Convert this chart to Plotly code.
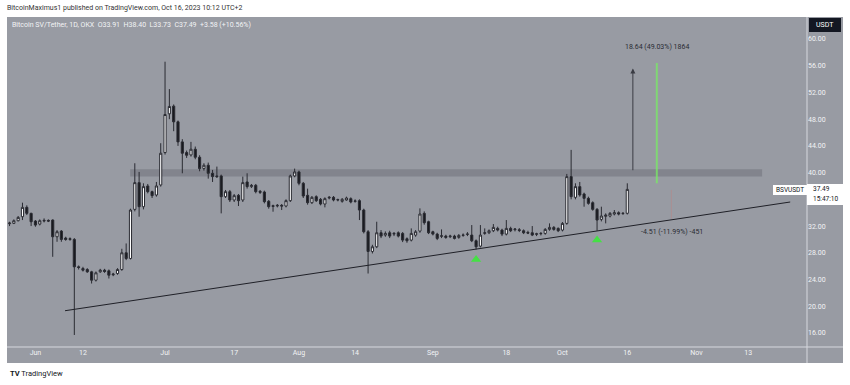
import pandas as pd
import plotly.graph_objects as go

# ---------------- data (daily candles, BSV/USDT, OKX) ----------------
last_date = "2023-10-16"

opens = [
    32.35, 32.40, 32.80, 33.40, 34.80, 33.90, 32.75, 32.30, 32.75, 32.85,
    32.90, 30.40, 31.25, 30.20, 30.00, 30.00, 25.90, 25.65, 25.50, 25.15,
    23.90, 25.15, 25.40, 25.30, 24.70, 24.90, 25.50, 28.00, 27.15, 34.50,
    38.50, 34.90, 38.00, 37.15, 36.65, 38.15, 43.00, 48.80, 49.95, 47.60,
    44.60, 43.00, 42.65, 43.50, 42.30, 40.60, 41.10, 39.90, 39.50, 39.50,
    36.40, 37.15, 35.90, 36.60, 35.90, 38.60, 37.90, 38.10, 37.20, 37.10,
    35.70, 35.05, 35.00, 35.10, 35.00, 35.80, 39.50, 40.10, 38.40, 36.60,
    35.50, 36.40, 36.00, 35.30, 36.20, 36.30, 35.90, 35.70, 35.90, 36.10,
    35.70, 35.80, 34.40, 31.15, 28.20, 28.90, 31.00, 30.65, 31.00, 30.80,
    31.00, 30.90, 30.10, 29.90, 30.65, 31.25, 33.90, 32.65, 31.15, 30.80,
    30.45, 30.50, 30.40, 30.50, 30.30, 30.60, 30.75, 30.65, 29.80, 29.00,
    30.90, 31.00, 31.30, 31.65, 31.40, 30.80, 31.65, 31.45, 31.45, 31.30,
    31.05, 31.00, 30.75, 30.85, 30.90, 31.50, 31.80, 31.65, 31.40, 32.40,
    39.40, 36.30, 37.90, 36.80, 36.15, 35.50, 34.50, 33.00, 33.45, 33.50,
    33.80, 34.00, 33.85, 33.91,
]
highs = [
    32.65, 33.00, 33.50, 35.50, 35.10, 34.00, 32.90, 33.00, 33.15, 33.00,
    33.00, 31.40, 31.40, 30.40, 30.30, 30.20, 26.10, 25.90, 25.70, 25.30,
    25.20, 25.60, 25.60, 25.50, 25.00, 25.70, 28.60, 29.40, 34.60, 41.40,
    40.10, 38.40, 38.30, 37.30, 38.60, 44.40, 56.60, 52.50, 50.20, 47.80,
    45.00, 43.30, 44.60, 43.90, 42.60, 41.40, 41.50, 40.40, 40.90, 39.70,
    37.40, 37.40, 36.80, 36.80, 39.40, 39.90, 38.30, 38.30, 37.40, 37.30,
    35.90, 35.20, 35.30, 35.30, 36.00, 39.70, 40.60, 40.30, 38.60, 37.60,
    36.50, 36.60, 36.20, 36.30, 36.50, 36.50, 36.10, 36.20, 36.40, 36.30,
    36.00, 36.00, 34.60, 31.40, 29.20, 32.65, 31.40, 31.20, 31.30, 31.10,
    31.20, 31.10, 30.30, 31.65, 31.40, 34.65, 34.20, 32.80, 31.30, 31.00,
    31.50, 30.70, 30.70, 30.70, 30.80, 30.90, 31.10, 32.15, 30.00, 32.15,
    31.65, 31.50, 32.30, 31.90, 31.60, 32.90, 31.90, 31.70, 31.70, 31.50,
    31.30, 32.00, 31.00, 31.10, 31.70, 32.40, 32.00, 31.80, 32.60, 39.80,
    43.40, 38.40, 38.60, 37.00, 36.40, 35.70, 34.70, 34.90, 33.90, 34.10,
    34.40, 34.20, 34.10, 38.40,
]
lows = [
    32.00, 32.30, 32.70, 32.90, 33.65, 32.00, 31.90, 32.10, 32.55, 32.60,
    27.40, 29.65, 29.65, 29.80, 29.80, 15.70, 25.50, 25.20, 25.00, 23.40,
    23.70, 25.00, 25.00, 24.15, 24.50, 24.70, 25.30, 26.90, 27.00, 34.20,
    33.40, 34.50, 36.90, 36.20, 36.40, 37.90, 42.70, 48.00, 46.20, 44.00,
    39.90, 42.20, 42.40, 42.00, 40.20, 40.30, 39.10, 38.60, 39.20, 33.90,
    36.20, 35.60, 35.60, 35.00, 35.60, 37.60, 37.70, 36.90, 36.80, 35.40,
    34.60, 34.15, 34.80, 34.40, 34.80, 35.60, 39.30, 38.10, 36.20, 35.20,
    35.30, 35.60, 35.10, 34.80, 36.00, 35.70, 35.70, 35.50, 35.80, 35.40,
    35.50, 32.90, 30.90, 24.90, 27.90, 28.70, 30.20, 30.40, 30.20, 30.50,
    30.30, 29.60, 29.50, 29.70, 30.40, 31.00, 32.20, 30.80, 30.60, 29.90,
    30.20, 30.10, 30.20, 30.00, 30.10, 30.40, 30.50, 29.60, 28.50, 28.80,
    30.70, 30.80, 31.10, 31.20, 30.50, 30.60, 31.10, 31.20, 31.10, 30.80,
    30.80, 30.50, 30.50, 30.60, 30.70, 31.30, 31.30, 31.10, 31.20, 32.20,
    36.00, 36.00, 36.40, 34.90, 35.20, 34.30, 31.30, 32.70, 32.40, 33.30,
    33.60, 33.60, 33.70, 33.73,
]
closes = [
    32.45, 32.80, 33.30, 34.80, 33.90, 32.65, 32.15, 32.80, 32.85, 32.75,
    30.40, 31.15, 30.00, 30.00, 30.10, 25.90, 25.80, 25.40, 25.15, 23.90,
    25.00, 25.40, 25.20, 24.65, 24.80, 25.50, 28.00, 27.15, 34.40, 38.50,
    34.90, 37.90, 37.15, 36.55, 38.00, 42.90, 48.70, 49.90, 47.60, 44.60,
    42.90, 42.60, 43.50, 42.30, 40.60, 41.10, 39.90, 39.40, 39.40, 36.40,
    37.15, 35.90, 36.55, 35.80, 38.50, 37.90, 38.10, 37.15, 37.05, 35.65,
    34.90, 34.95, 35.10, 35.00, 35.80, 39.50, 40.10, 38.40, 36.50, 35.50,
    36.30, 35.80, 35.30, 36.10, 36.30, 35.90, 35.95, 36.00, 36.20, 35.60,
    35.75, 34.40, 31.15, 28.20, 28.90, 31.00, 30.50, 30.90, 30.50, 30.90,
    30.50, 29.90, 29.80, 30.90, 31.15, 33.80, 32.50, 31.00, 30.80, 30.15,
    30.55, 30.30, 30.50, 30.15, 30.60, 30.65, 30.80, 29.80, 28.90, 30.65,
    31.00, 31.30, 31.80, 31.40, 30.80, 31.65, 31.30, 31.55, 31.35, 31.00,
    30.95, 30.65, 30.85, 30.90, 31.50, 31.80, 31.50, 31.30, 32.40, 39.40,
    36.40, 37.90, 36.65, 36.15, 35.40, 34.50, 32.90, 33.50, 33.65, 33.90,
    34.00, 33.80, 33.90, 37.49,
]
n = min(len(opens), len(highs), len(lows), len(closes))
dates = pd.date_range(end=last_date, periods=n, freq="D")

# 36.00 is hidden behind the last-price label in the reference
price_ticks = [16, 20, 24, 28, 32, 40, 44, 48, 52, 56, 60]
price_tick_text = [f"{v:.2f}" for v in price_ticks]
time_ticks = ["2023-06-01", "2023-06-12", "2023-07-01", "2023-07-17", "2023-08-01", "2023-08-14",
              "2023-09-01", "2023-09-18", "2023-10-01", "2023-10-16", "2023-11-01", "2023-11-13"]
time_tick_text = ["Jun", "12", "Jul", "17", "Aug", "14", "Sep", "18", "Oct", "16", "Nov", "13"]

# drawings
resist_low, resist_high = 39.4, 40.5
trend_x = ["2023-06-07 20:24", "2023-11-22 17:00"]
trend_y = [19.33, 35.6]
signal_dates = ["2023-09-11", "2023-10-09"]
signal_prices = [27.0, 29.9]

BG = "#989ba3"
SEP = "#d6d8de"
LIGHT = "#f2f3f5"
FONT = "Roboto, Arial, sans-serif"

fig = go.Figure()
fig.add_trace(go.Candlestick(
    x=dates[:n], open=opens[:n], high=highs[:n], low=lows[:n], close=closes[:n],
    increasing=dict(fillcolor="#ffffff", line=dict(color="#2a2b32", width=1)),
    decreasing=dict(fillcolor="#17181d", line=dict(color="#2a2b32", width=1)),
    whiskerwidth=0, hoverinfo="skip",
))
fig.add_trace(go.Scatter(
    x=signal_dates, y=signal_prices, mode="markers",
    marker=dict(symbol="triangle-up", size=9, color="#45e045", line=dict(width=0)),
    hoverinfo="skip",
))

shapes = [
    dict(type="rect", xref="paper", yref="paper", x0=1, x1=1.045, y0=-0.0485, y1=1,
         fillcolor=BG, line=dict(width=0), layer="below"),
    dict(type="rect", xref="paper", yref="paper", x0=0, x1=1.045, y0=-0.0485, y1=0,
         fillcolor=BG, line=dict(width=0), layer="below"),
    dict(type="line", xref="paper", yref="paper", x0=1, x1=1, y0=-0.0485, y1=1,
         line=dict(color=SEP, width=1)),
    dict(type="line", xref="paper", yref="paper", x0=0, x1=1.045, y0=0, y1=0,
         line=dict(color=SEP, width=1)),
    dict(type="rect", xref="x", yref="y", x0="2023-06-22 22:20", x1="2023-11-16 05:00",
         y0=resist_low, y1=resist_high, fillcolor="rgba(70,72,80,0.27)", line=dict(width=0),
         layer="below"),
    dict(type="line", xref="x", yref="y", x0=trend_x[0], x1=trend_x[1], y0=trend_y[0], y1=trend_y[1],
         line=dict(color="#1f2027", width=1)),
    dict(type="line", xref="x", yref="y", x0="2023-10-22 20:00", x1="2023-10-22 20:00",
         y0=38.4, y1=56.4, line=dict(color="rgba(120,235,100,0.75)", width=2)),
    dict(type="line", xref="x", yref="y", x0="2023-10-26 05:00", x1="2023-10-26 05:00",
         y0=33.1, y1=37.4, line=dict(color="rgba(190,130,130,0.5)", width=1)),
    dict(type="rect", xref="paper", yref="paper", x0=1.0025, x1=1.0425, y0=0.9545, y1=0.997,
         fillcolor="#131722", line=dict(width=0)),
    dict(type="rect", xref="paper", yref="paper", x0=0.9575, x1=1.0, y0=0.4606, y1=0.4909,
         fillcolor="#ffffff", line=dict(width=0)),
    dict(type="rect", xref="paper", yref="paper", x0=1.0, x1=1.045, y0=0.4303, y1=0.4939,
         fillcolor="#ffffff", line=dict(width=0)),
]

ann = [
    dict(xref="paper", yref="paper", x=-0.0025, y=1.0273, xanchor="left", yanchor="middle",
         text="BitcoinMaximus1 published on TradingView.com, Oct 16, 2023 10:12 UTC+2",
         font=dict(size=7, color="#333333", family=FONT), showarrow=False),
    dict(xref="paper", yref="paper", x=0.00375, y=0.9758, xanchor="left", yanchor="middle",
         text="Bitcoin SV/Tether, 1D, OKX  O33.91  H38.40  L33.73  C37.49  +3.58 (+10.56%)",
         font=dict(size=7, color=LIGHT, family=FONT), showarrow=False),
    dict(xref="paper", yref="paper", x=1.0225, y=0.9758, xanchor="center", yanchor="middle",
         text="USDT", font=dict(size=7, color="#ffffff", family=FONT), showarrow=False),
    dict(xref="paper", yref="paper", x=0.979, y=0.4758, xanchor="center", yanchor="middle",
         text="BSVUSDT", font=dict(size=6.5, color="#131722", family=FONT), showarrow=False),
    dict(xref="paper", yref="paper", x=1.00625, y=0.4800, xanchor="left", yanchor="middle",
         borderpad=0, text="37.49", font=dict(size=6.5, color="#131722", family=FONT), showarrow=False),
    dict(xref="paper", yref="paper", x=1.00625, y=0.4485, xanchor="left", yanchor="middle",
         borderpad=0, text="15:47:10", font=dict(size=6.5, color="#131722", family=FONT), showarrow=False),
    dict(xref="x", yref="y", x="2023-10-17 07:00", y=55.6, ax="2023-10-17 07:00", ay=40.13,
         axref="x", ayref="y", text="", showarrow=True, arrowhead=2, arrowsize=1,
         arrowwidth=1, arrowcolor="#3a3c44"),
    dict(xref="x", yref="y", x="2023-10-22 20:00", y=58.76, xanchor="center", yanchor="middle",
         text="18.64 (49.03%) 1864", font=dict(size=7, color="#2a2c33", family=FONT), showarrow=False),
    dict(xref="x", yref="y", x="2023-10-26 10:00", y=31.15, xanchor="center", yanchor="middle",
         text="-4.51 (-11.99%) -451", font=dict(size=7, color="#2a2c33", family=FONT), showarrow=False),
    dict(xref="paper", yref="paper", x=0.00125, y=-0.0788, xanchor="left", yanchor="middle",
         text="<b>TV</b> TradingView", font=dict(size=7.5, color="#131722", family=FONT), showarrow=False),
]

fig.update_layout(
    width=850, height=385,
    margin=dict(l=7, r=43, t=17, b=38),
    paper_bgcolor="#ffffff", plot_bgcolor=BG,
    showlegend=False,
    font=dict(family=FONT),
    shapes=shapes, annotations=ann,
    xaxis=dict(type="date", range=["2023-05-25 10:00", "2023-11-26 14:24"],
               rangeslider=dict(visible=False), showgrid=False, zeroline=False, showline=False,
               tickvals=time_ticks, ticktext=time_tick_text, ticks="",
               tickfont=dict(size=7, color=LIGHT, family=FONT)),
    yaxis=dict(side="right", range=[13.9, 63.29], showgrid=False, zeroline=False, showline=False,
               tickvals=price_ticks, ticktext=price_tick_text, ticks="",
               tickfont=dict(size=7, color=LIGHT, family=FONT)),
)

fig.write_html("out.html", config={"displayModeBar": False},
               post_script="document.body.style.margin='0';")
